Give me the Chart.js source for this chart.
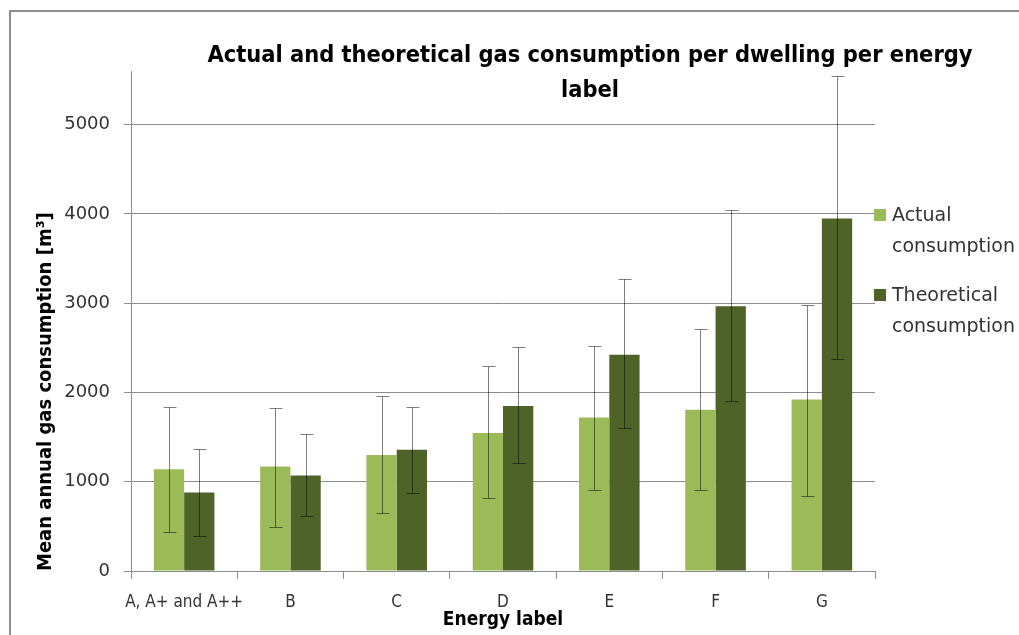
<!DOCTYPE html>
<html>
<head>
<meta charset="utf-8">
<title>Gas consumption per energy label</title>
<script src="https://cdn.jsdelivr.net/npm/chart.js@4.4.1/dist/chart.umd.min.js"></script>
<style>
  html, body { margin: 0; padding: 0; background: #fff; }
  #wrap { position: relative; width: 1019px; height: 635px; overflow: hidden; }
  #frame { position: absolute; left: 9px; top: 10px; width: 1100px; height: 700px; border: 2px solid #8c8c8c; box-sizing: border-box; }
  #chart { position: absolute; left: 0; top: 0; }
  #chartTitle {
    position: absolute; left: 0; top: 37px; width: 1180px; text-align: center;
    font-family: "Liberation Sans Narrow", "DejaVu Sans Condensed", sans-serif;
    font-weight: bold; font-size: 23.4px; line-height: 35px; color: #000;
  }
  #legend {
    position: absolute; left: 874px; top: 199px;
    font-family: "DejaVu Sans", sans-serif; font-size: 19px; line-height: 31px; color: #333;
    white-space: nowrap;
  }
  .item { position: relative; padding-left: 18px; margin-bottom: 18px; }
  .swatch { position: absolute; left: 0; top: 10px; width: 12px; height: 12px; }
</style>
</head>
<body>
<div id="wrap">
  <div id="frame"></div>
  <canvas id="chart" width="1019" height="635"></canvas>
  <div id="chartTitle">Actual and theoretical gas consumption per dwelling per energy<br>label</div>
  <div id="legend"></div>
</div>
<script>
const categories = ['A, A+ and A++', 'B', 'C', 'D', 'E', 'F', 'G'];
const actual = [1140, 1170, 1300, 1545, 1720, 1805, 1920];
const theoretical = [880, 1070, 1357, 1849, 2423, 2966, 3949];
const actualLow = [432, 497, 645, 817, 904, 905, 845];
const actualHigh = [1840, 1829, 1957, 2291, 2520, 2708, 2981];
const theoLow = [387, 615, 877, 1207, 1597, 1900, 2375];
const theoHigh = [1366, 1536, 1841, 2508, 3265, 4043, 5546];
const yTicks = [0, 1000, 2000, 3000, 4000, 5000];

const narrow = '"Liberation Sans Narrow", "DejaVu Sans Condensed", sans-serif';
const axisGray = '#8c8c8c';

// whiskers with caps, drawn over the bars
const errorBars = {
    id: 'errorBars',
    afterDatasetsDraw(chart) {
        const ctx = chart.ctx;
        const y = chart.scales.y;
        ctx.save();
        ctx.lineWidth = 1;
        ctx.strokeStyle = 'rgba(0, 0, 0, 0.5)';
        chart.data.datasets.forEach((ds, i) => {
            chart.getDatasetMeta(i).data.forEach((bar, j) => {
                const x = Math.round(bar.x) + 0.5;
                const top = Math.round(y.getPixelForValue(ds.errHigh[j])) + 0.5;
                const bot = Math.round(y.getPixelForValue(ds.errLow[j])) + 0.5;
                ctx.beginPath();
                ctx.moveTo(x, top); ctx.lineTo(x, bot);
                ctx.moveTo(x - 6, top); ctx.lineTo(x + 7, top);
                ctx.moveTo(x - 6, bot); ctx.lineTo(x + 7, bot);
                ctx.stroke();
            });
        });
        ctx.restore();
    }
};

const ctx1 = document.getElementById('chart').getContext('2d');
const gasChart = new Chart(ctx1, {
    type: 'bar',
    data: {
        labels: categories,
        datasets: [{
            label: 'Actual consumption',
            data: actual,
            errLow: actualLow,
            errHigh: actualHigh,
            backgroundColor: '#9bbb59',
            barPercentage: 1,
            categoryPercentage: 0.57
        }, {
            label: 'Theoretical consumption',
            data: theoretical,
            errLow: theoLow,
            errHigh: theoHigh,
            backgroundColor: '#4f6228',
            barPercentage: 1,
            categoryPercentage: 0.57
        }]
    },
    options: {
        responsive: false,
        animation: false,
        layout: { padding: { top: 71, right: 144, left: 0, bottom: 0 } },
        plugins: {
            legend: { display: false },
            title: { display: false },
            tooltip: { enabled: false }
        },
        scales: {
            x: {
                afterFit: s => { s.height = 64; },
                grid: { offset: true, drawOnChartArea: false, tickLength: 8, color: axisGray },
                border: { color: axisGray },
                ticks: {
                    padding: 13, color: '#333', autoSkip: false, maxRotation: 0,
                    font: { family: narrow, size: 17 }
                },
                title: {
                    display: true,
                    text: 'Energy label',
                    color: '#000',
                    font: { family: narrow, size: 19, weight: 'bold' },
                    padding: { top: 0, bottom: 4 }
                }
            },
            y: {
                min: 0,
                max: 5600,
                afterFit: s => { s.width = 131; },
                afterBuildTicks: s => { s.ticks = yTicks.map(v => ({ value: v })); },
                grid: { tickLength: 7, color: axisGray },
                border: { color: axisGray },
                ticks: {
                    padding: 14, color: '#333',
                    font: { family: '"DejaVu Sans", sans-serif', size: 18 },
                    callback: v => String(v)
                },
                title: {
                    display: true,
                    text: 'Mean annual gas consumption [m³]',
                    align: 'start',
                    color: '#000',
                    font: { family: narrow, size: 20, weight: 'bold' },
                    padding: { top: 34, bottom: 0 }
                }
            }
        }
    },
    plugins: [errorBars]
});

// legend on the right, labels broken over two lines like the original
const legendBox = document.getElementById('legend');
gasChart.data.datasets.forEach(ds => {
    const item = document.createElement('div');
    item.className = 'item';
    const sw = document.createElement('span');
    sw.className = 'swatch';
    sw.style.background = ds.backgroundColor;
    item.appendChild(sw);
    const words = ds.label.split(' ');
    item.appendChild(document.createTextNode(words[0]));
    item.appendChild(document.createElement('br'));
    item.appendChild(document.createTextNode(words.slice(1).join(' ')));
    legendBox.appendChild(item);
});
</script>
</body>
</html>
